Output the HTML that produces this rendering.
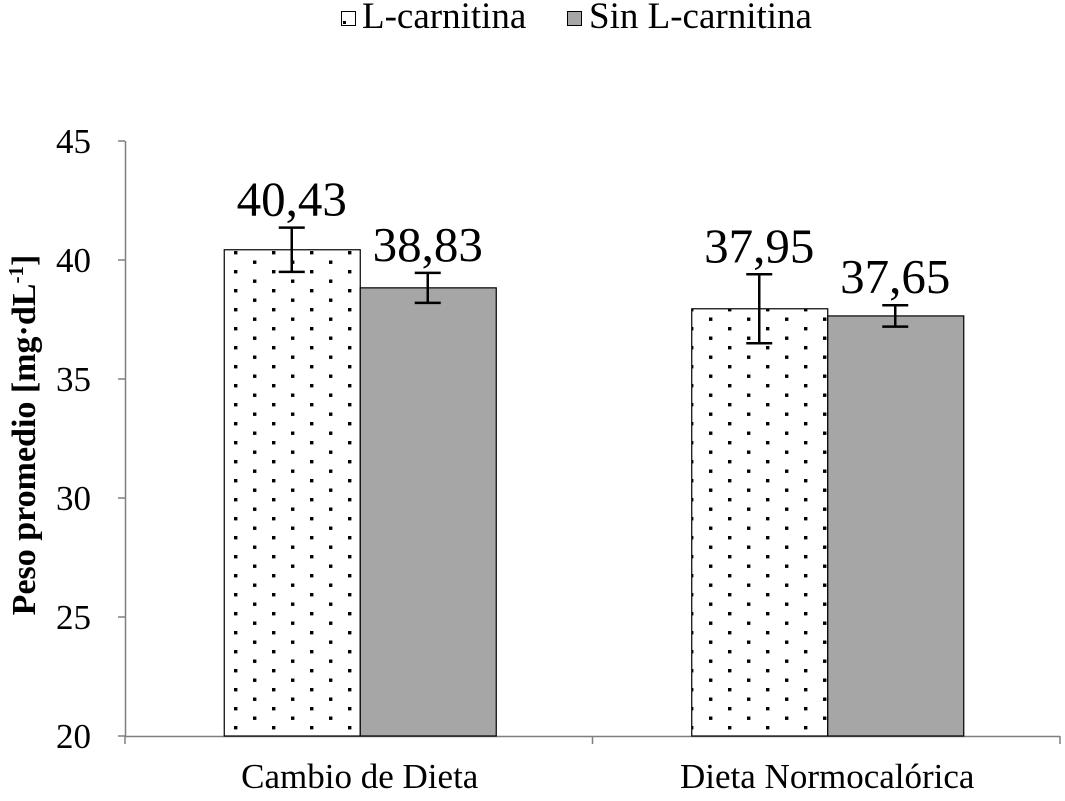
<!DOCTYPE html>
<html><head><meta charset="utf-8"><style>
body{margin:0;background:#fff;}
svg text{font-family:"Liberation Serif",serif;fill:#000;}
</style></head><body>
<svg id="chart" width="1065" height="796" viewBox="0 0 1065 796" xmlns="http://www.w3.org/2000/svg">
<defs>
<pattern id="dots" x="225" y="0" width="38" height="19" patternUnits="userSpaceOnUse">
<rect x="9" y="4" width="3.4" height="3.4" fill="#000"/>
<rect x="28" y="13.5" width="3.4" height="3.4" fill="#000"/>
</pattern>
</defs>
<g id="legend">
<g>
<rect x="341.5" y="11.5" width="14" height="14" fill="#fff" stroke="#000" stroke-width="1"/>
<rect x="343" y="21" width="3" height="3" fill="#000"/>
<text x="362" y="28" font-size="37">L-carnitina</text>
</g>
<g>
<rect x="567.5" y="11.5" width="14" height="14" fill="#a6a6a6" stroke="#000" stroke-width="1"/>
<text x="589" y="28" font-size="37">Sin L-carnitina</text>
</g>
</g>
<text transform="translate(35,435) rotate(-90)" text-anchor="middle" font-size="34" font-weight="bold">Peso promedio [mg·dL<tspan font-size="21" dy="-12">-1</tspan><tspan dy="12">]</tspan></text>
<g id="axes"></g>
<g id="bars"></g>
</svg>
<script>
const categories=["Cambio de Dieta","Dieta Normocalórica"];
const seriesNames=["L-carnitina","Sin L-carnitina"];
const valuesL=[40.43,37.95];
const valuesSin=[38.83,37.65];
const errL=[0.93,1.45];
const errSin=[0.63,0.45];
const labelsL=["40,43","37,95"];
const labelsSin=["38,83","37,65"];
const yTicks=[20,25,30,35,40,45];

const NS="http://www.w3.org/2000/svg";
const x0=125,x1=1060,yMin=20,yMax=45,py0=736,py1=141;
function y(v){return py0-(v-yMin)/(yMax-yMin)*(py0-py1);}
const catW=(x1-x0)/categories.length;
function cx(i){return x0+catW*(i+0.5)+1;}
const barW=136;
function el(tag,attrs,parent){const e=document.createElementNS(NS,tag);for(const k in attrs)e.setAttribute(k,attrs[k]);parent.appendChild(e);return e;}
const axes=document.getElementById('axes'),bars=document.getElementById('bars');

const ya=el('line',{x1:x0+0.5,y1:py1,x2:x0+0.5,y2:py0,stroke:'#7f7f7f','stroke-width':1.5},axes);


const xa=el('line',{x1:x0,y1:py0+0.5,x2:x1,y2:py0+0.5,stroke:'#7f7f7f','stroke-width':1.5},axes);


yTicks.forEach(t=>{
  const l=el('line',{x1:x0-7,y1:y(t),x2:x0,y2:y(t),stroke:'#7f7f7f','stroke-width':1.5},axes);
  
  
  const tx=el('text',{x:91,y:y(t)+12,'text-anchor':'end','font-size':35},axes);
  tx.textContent=t;
  
  
});
for(let i=0;i<=categories.length;i++){
  const l=el('line',{x1:x0+catW*i,y1:py0,x2:x0+catW*i,y2:py0+8,stroke:'#7f7f7f','stroke-width':1.5},axes);
  
  
}
categories.forEach((c,i)=>{
  const tx=el('text',{x:cx(i),y:788,'text-anchor':'middle','font-size':35},axes);
  tx.textContent=c;
  
  
  const series=[[valuesL,errL,labelsL,'url(#dots)',-barW],[valuesSin,errSin,labelsSin,'#a6a6a6',0]];
  series.forEach((s,k)=>{
    const v=s[0][i],bx=cx(i)+s[4];
    const r=el('rect',{x:bx+0.5,y:y(v),width:barW,height:py0-y(v),fill:s[3],stroke:'#000','stroke-width':1.2},bars);
    
    
    const mx=bx+barW/2,e=s[1][i];
    const g=el('path',{d:`M${mx-13},${y(v+e)}H${mx+13}M${mx},${y(v+e)}V${y(v-e)}M${mx-13},${y(v-e)}H${mx+13}`,stroke:'#000','stroke-width':2.5,fill:'none'},bars);
    
    
    const lt=el('text',{x:mx,y:y(v+e)-12,'text-anchor':'middle','font-size':49},bars);
    lt.textContent=s[2][i];
    
    
  });
});
</script>
</body></html>
